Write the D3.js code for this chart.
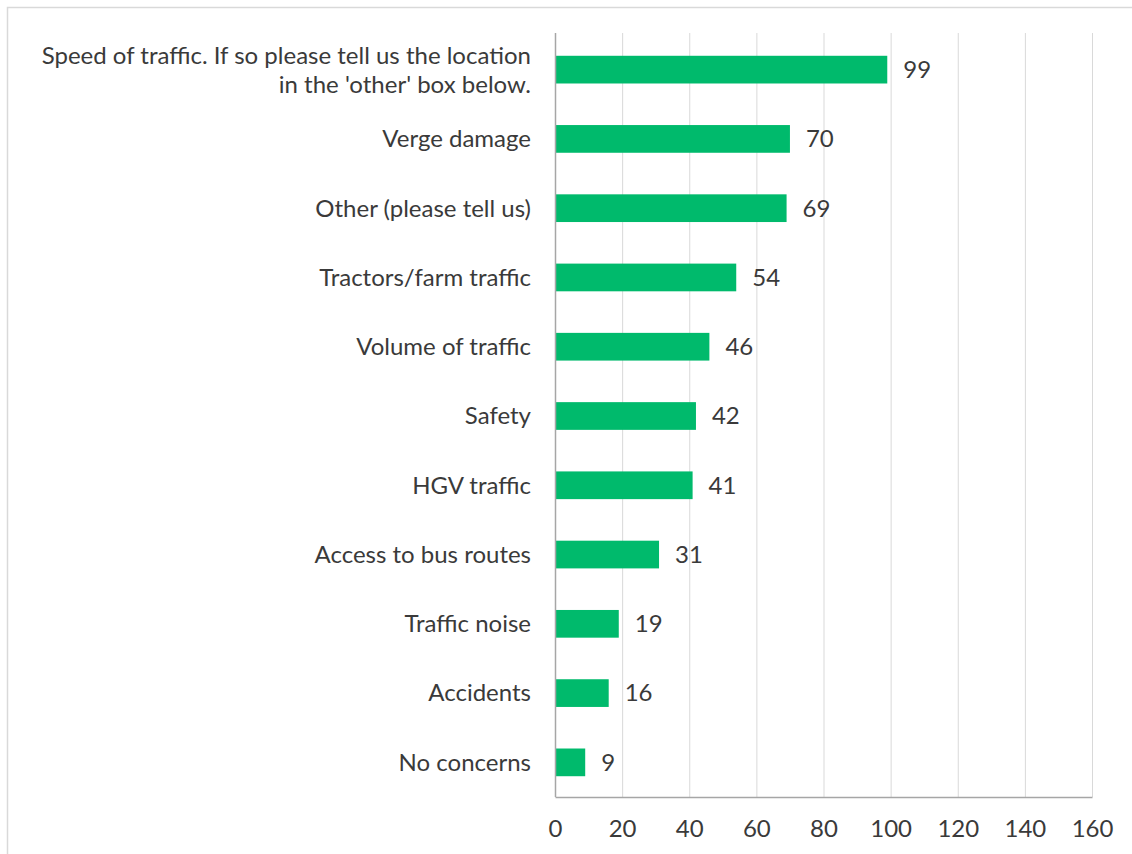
<!DOCTYPE html>
<html>
<head>
<meta charset="utf-8">
<script src="https://cdn.jsdelivr.net/npm/d3@7"></script>
<style>
  html, body { margin: 0; padding: 0; background: #fff; }
  svg { display: block; }
  text { font-family: Lato, "Open Sans", sans-serif; fill: #3a3a3a; }
</style>
</head>
<body>
<script>
const categories = [
  "Speed of traffic. If so please tell us the location|in the 'other' box below.",
  "Verge damage",
  "Other (please tell us)",
  "Tractors/farm traffic",
  "Volume of traffic",
  "Safety",
  "HGV traffic",
  "Access to bus routes",
  "Traffic noise",
  "Accidents",
  "No concerns"
];
const values = [99, 70, 69, 54, 46, 42, 41, 31, 19, 16, 9];
const tickValues = [0, 20, 40, 60, 80, 100, 120, 140, 160];

const W = 1132, H = 854;
const plotLeft = 555, plotRight = 1092, plotTop = 35, plotBottom = 797;
const FS = 24;

const svg = d3.select("body").append("svg").attr("width", W).attr("height", H);

// outer chart border
svg.append("rect").attr("x", 7.5).attr("y", 7.5).attr("width", 1300).attr("height", 1000)
  .attr("fill", "none").attr("stroke", "#d9d9d9").attr("stroke-width", 1.5);

const x = d3.scaleLinear().domain([0, 160]).range([plotLeft, plotRight]);
const y = d3.scaleBand().domain(categories).range([plotTop, plotBottom]).paddingInner(0.6).paddingOuter(0.3);

// gridlines
svg.append("g").selectAll("line").data(tickValues.slice(1)).join("line")
  .attr("x1", d => x(d) + 0.5).attr("x2", d => x(d) + 0.5)
  .attr("y1", 33).attr("y2", plotBottom)
  .attr("stroke", "#d9d9d9").attr("stroke-width", 1);

// bars
svg.append("g").selectAll("rect").data(values).join("rect")
  .attr("x", x(0))
  .attr("y", (d, i) => y(categories[i]))
  .attr("width", d => x(d) - x(0))
  .attr("height", y.bandwidth())
  .attr("fill", "#00BA6C");

// value labels
svg.append("g").selectAll("text").data(values).join("text")
  .attr("x", d => x(d) + 16)
  .attr("y", (d, i) => y(categories[i]) + y.bandwidth() / 2)
  .attr("dy", "0.35em")
  .attr("font-size", FS)
  .text(d => d);

// x axis
const xAxis = d3.axisBottom(x).tickValues(tickValues).tickSize(0).tickPadding(23);
const gx = svg.append("g").attr("transform", `translate(0,${plotBottom})`).call(xAxis);
gx.select(".domain").attr("stroke", "#a6a6a6").attr("stroke-width", 1.5);
gx.selectAll("text").attr("font-size", FS).attr("font-family", "Lato, 'Open Sans', sans-serif").attr("fill", "#3a3a3a");

// y axis
const yAxis = d3.axisLeft(y).tickSize(0).tickPadding(24).tickFormat(() => "");
const gy = svg.append("g").attr("transform", `translate(${plotLeft},0)`).call(yAxis);
gy.select(".domain").attr("stroke", "#a6a6a6").attr("stroke-width", 1.5).attr("d", `M0.5,33V${plotBottom}`);

// category labels (multi-line)
const lab = svg.append("g").selectAll("text").data(categories).join("text")
  .attr("text-anchor", "end")
  .attr("font-size", FS)
  .attr("x", plotLeft - 24)
  .attr("y", d => y(d) + y.bandwidth() / 2);
lab.each(function(d) {
  const lines = d.split("|");
  const n = lines.length;
  const lh = 29;
  d3.select(this).selectAll("tspan").data(lines).join("tspan")
    .attr("x", plotLeft - 24)
    .attr("dy", (l, i) => i === 0 ? (0.35 * FS - (n - 1) * lh / 2) + "px" : lh + "px")
    .text(l => l);
});
</script>
</body>
</html>
